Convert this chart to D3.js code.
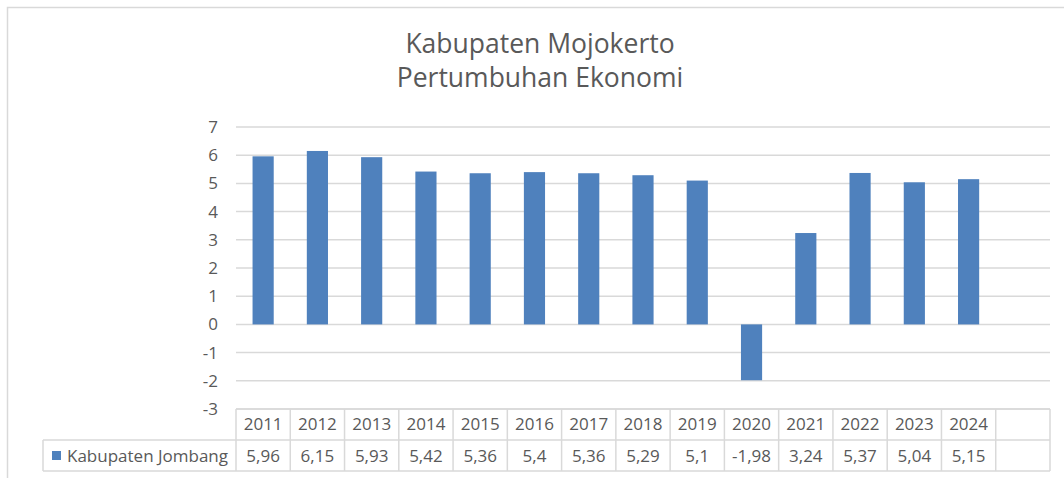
<!DOCTYPE html>
<html lang="id">
<head>
<meta charset="UTF-8">
<style>
  body { margin: 0; background: #fff; }
  svg text { font-family: "Open Sans", sans-serif; fill: #595959; }
</style>
<script src="https://d3js.org/d3.v7.min.js"></script>
</head>
<body>
<div id="chart"></div>
<script>
// data
const titleLines = ["Kabupaten Mojokerto", "Pertumbuhan Ekonomi"];
const seriesName = "Kabupaten Jombang";
const years = ["2011","2012","2013","2014","2015","2016","2017","2018","2019","2020","2021","2022","2023","2024"];
const values = [5.96, 6.15, 5.93, 5.42, 5.36, 5.4, 5.36, 5.29, 5.1, -1.98, 3.24, 5.37, 5.04, 5.15];
const yTicks = [7, 6, 5, 4, 3, 2, 1, 0, -1, -2, -3];
const extraColumns = [""]; // empty column at the right end of the table

const W = 1064, H = 478;
const barColor = "#4F81BD", gridColor = "#D9D9D9";
const plot = { left: 236, right: 1050, top: 127, bottom: 409 };
const rowH = 31;

const locale = d3.formatLocale({ decimal: ",", thousands: ".", grouping: [3], currency: ["", ""], minus: "-" });
const fmt = locale.format("");

const svg = d3.select("#chart").append("svg")
  .attr("width", W).attr("height", H);

// outer chart border (runs off the right/bottom edge)
svg.append("rect")
  .attr("x", 7.5).attr("y", 7.5).attr("width", 1100).attr("height", 520)
  .attr("fill", "none").attr("stroke", gridColor).attr("stroke-width", 1.5);

// title
svg.append("g").selectAll("text").data(titleLines).join("text")
  .attr("x", 540).attr("y", (d, i) => 53 + i * 34)
  .attr("text-anchor", "middle")
  .style("font-size", "26.5px")
  .text(d => d);

const x = d3.scaleBand().domain(years.concat(extraColumns))
  .range([plot.left, plot.right]).paddingInner(0).paddingOuter(0);
const y = d3.scaleLinear().domain([-3, 7]).range([plot.bottom, plot.top]);

// gridlines
svg.append("g").selectAll("line").data(yTicks).join("line")
  .attr("x1", plot.left).attr("x2", plot.right)
  .attr("y1", d => y(d)).attr("y2", d => y(d))
  .attr("stroke", gridColor).attr("stroke-width", 1.5);

// y axis labels
const yAxis = d3.axisLeft(y).tickValues(yTicks).tickSize(0).tickPadding(0)
  .tickFormat(locale.format("d"));
svg.append("g").attr("transform", `translate(${plot.left - 18},0)`).call(yAxis)
  .call(g => g.select(".domain").remove())
  .call(g => g.selectAll("text").attr("fill", "#595959")
    .style("font-size", "17px").style("font-family", "'Open Sans', sans-serif"));

// bars
const barW = x.bandwidth() * 0.39;
svg.append("g").selectAll("rect").data(values).join("rect")
  .attr("x", (d, i) => x(years[i]) + (x.bandwidth() - barW) / 2)
  .attr("y", d => y(Math.max(0, d)))
  .attr("width", barW)
  .attr("height", d => Math.abs(y(d) - y(0)))
  .attr("fill", barColor);

// data table
const table = svg.append("g").attr("stroke", gridColor).attr("stroke-width", 1.5).attr("fill", "none");
const t0 = plot.bottom, t1 = t0 + rowH, t2 = t1 + rowH;
const legendLeft = 43;
table.append("line").attr("x1", plot.left).attr("x2", plot.right).attr("y1", t0).attr("y2", t0);
table.append("line").attr("x1", legendLeft).attr("x2", plot.right).attr("y1", t1).attr("y2", t1);
table.append("line").attr("x1", legendLeft).attr("x2", plot.right).attr("y1", t2).attr("y2", t2);
table.append("line").attr("x1", legendLeft).attr("x2", legendLeft).attr("y1", t1).attr("y2", t2);
table.selectAll("line.col").data(x.domain()).join("line").attr("class", "col")
  .attr("x1", d => x(d)).attr("x2", d => x(d)).attr("y1", t0).attr("y2", t2);
table.append("line").attr("x1", plot.right).attr("x2", plot.right).attr("y1", t0).attr("y2", t2);

svg.append("g").selectAll("text").data(years).join("text")
  .attr("x", d => x(d) + x.bandwidth() / 2).attr("y", t0 + 21)
  .attr("text-anchor", "middle").style("font-size", "17px")
  .text(d => d);

svg.append("g").selectAll("text").data(values).join("text")
  .attr("x", (d, i) => x(years[i]) + x.bandwidth() / 2).attr("y", t1 + 22)
  .attr("text-anchor", "middle").style("font-size", "17px")
  .text(d => fmt(d));

// legend key in the table
svg.append("rect").attr("x", 52).attr("y", 451).attr("width", 9).attr("height", 9).attr("fill", barColor);
svg.append("text").attr("x", 67).attr("y", t1 + 22).style("font-size", "17px").text(seriesName);
</script>
</body>
</html>
